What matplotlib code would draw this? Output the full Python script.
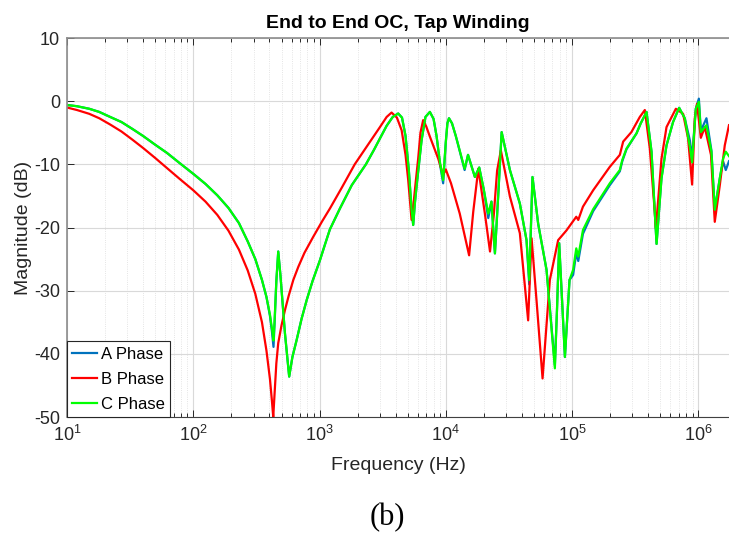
import matplotlib
matplotlib.use("Agg")
import matplotlib.pyplot as plt

plt.rcParams['font.family'] = ['Liberation Sans', 'DejaVu Sans']
plt.rcParams['axes.unicode_minus'] = False

# frequency response, tap winding, end-to-end open circuit
freq_ac = [10, 12, 15, 18, 22, 27, 33, 40, 50, 62, 78, 100, 125, 155, 190, 230, 270,
           310, 350, 380, 405, 420, 432, 440, 455, 471, 490, 532, 575, 610, 659, 720,
           791, 880, 1007, 1100, 1208, 1450, 1800, 2330, 2700, 3010, 3400, 3800, 4200,
           4500, 4800, 5100, 5350, 5520, 5700, 5940, 6430, 6900, 7480, 8000, 8450,
           9000, 9530, 10000, 10300, 10600, 11200, 12000, 14100, 15000, 17000, 18400,
           20000, 21700, 23000, 24500, 26000, 27700, 32200, 38600, 43600, 45800,
           48600, 53900, 62800, 73100, 76000, 79100, 87800, 95500, 102000, 108000,
           112000, 122000, 147000, 199000, 239000, 250000, 270000, 324000, 350000,
           389000, 426000, 452000, 467000, 511000, 560000, 631000, 705000, 781000,
           857000, 893000, 955000, 1010000, 1047000, 1160000, 1270000, 1350000,
           1480000, 1570000, 1650000, 1750000]

mag_a = [-0.6, -0.8, -1.2, -1.7, -2.5, -3.3, -4.4, -5.5, -6.9, -8.2, -9.8, -11.5,
         -13.1, -14.9, -16.9, -19.3, -22.2, -25.0, -28.3, -31.0, -34.0, -36.5, -38.9,
         -35.5, -28.5, -23.8, -27.5, -36.7, -43.6, -40.5, -37.8, -34.5, -31.5, -28.5,
         -25.2, -22.8, -20.3, -17.0, -13.3, -10.0, -7.7, -5.9, -3.9, -2.5, -1.95,
         -2.6, -5.5, -11.0, -17.0, -19.6, -16.0, -12.5, -6.2, -2.5, -1.7, -2.8, -5.5,
         -10.0, -13.0, -6.5, -3.5, -2.7, -3.5, -5.5, -10.9, -8.5, -12.0, -10.5, -14.0,
         -18.5, -15.9, -24.1, -15.0, -4.9, -10.9, -16.2, -22.0, -29.0, -12.0, -19.4,
         -26.7, -41.8, -33.0, -22.5, -40.5, -28.3, -27.5, -24.0, -25.3, -21.0, -17.4,
         -13.3, -11.1, -9.5, -7.6, -5.1, -3.5, -1.7, -8.0, -17.5, -22.6, -12.2, -7.0,
         -3.3, -1.05, -2.7, -6.2, -9.0, -1.2, 0.4, -4.7, -2.7, -7.8, -17.2, -12.2,
         -9.5, -10.9, -9.5]

mag_c = [-0.6, -0.8, -1.2, -1.7, -2.5, -3.3, -4.4, -5.5, -6.9, -8.2, -9.8, -11.5,
         -13.1, -14.9, -16.9, -19.3, -22.2, -25.0, -28.3, -31.0, -33.8, -36.0, -37.9,
         -35.0, -28.5, -23.8, -27.5, -36.7, -43.6, -40.5, -37.8, -34.5, -31.5, -28.5,
         -25.2, -22.8, -20.3, -17.0, -13.3, -10.0, -7.7, -5.9, -3.9, -2.5, -1.95,
         -2.6, -5.5, -11.0, -17.0, -19.6, -16.0, -12.5, -6.2, -2.5, -1.7, -2.8, -5.5,
         -9.7, -12.5, -6.5, -3.5, -2.7, -3.5, -5.5, -10.7, -8.5, -12.0, -10.5, -14.0,
         -17.8, -15.9, -24.1, -15.0, -4.9, -10.9, -16.2, -22.0, -28.3, -12.0, -19.4,
         -26.7, -42.3, -33.0, -22.5, -40.5, -28.3, -26.7, -23.3, -24.6, -20.4, -17.1,
         -13.0, -10.9, -9.3, -7.5, -5.1, -3.5, -1.7, -8.0, -17.5, -22.6, -12.2, -7.0,
         -3.3, -1.05, -2.7, -7.2, -9.7, -1.2, -0.1, -4.9, -3.8, -8.0, -17.2, -12.2,
         -9.1, -8.0, -8.7]

freq_b = [10, 12, 15, 18, 22, 27, 33, 40, 50, 62, 78, 100, 125, 155, 190, 230, 270,
          310, 350, 380, 405, 420, 430, 440, 455, 471, 500, 532, 570, 620, 680, 760,
          890, 1050, 1208, 1500, 1900, 2400, 3010, 3400, 3720, 4100, 4470, 4800,
          5040, 5360, 5600, 5800, 6050, 6300, 6620, 7000, 7480, 8710, 9530, 10000,
          11000, 12900, 15300, 16500, 18100, 20400, 22400, 24000, 25500, 27300,
          32200, 38600, 44900, 47800, 52300, 58400, 66700, 77600, 90000, 108000,
          112000, 122000, 147000, 199000, 239000, 254000, 295000, 344000, 377000,
          413000, 452000, 460000, 475000, 511000, 560000, 664000, 758000, 830000,
          893000, 938000, 977000, 1047000, 1125000, 1260000, 1350000, 1480000,
          1620000, 1750000]

mag_b = [-1.0, -1.4, -2.0, -2.7, -3.7, -4.8, -6.1, -7.4, -9.0, -10.6, -12.3, -14.1,
         -15.9, -18.0, -20.5, -23.5, -26.8, -30.5, -35.0, -39.5, -44.0, -47.5, -50.0,
         -46.5, -41.5, -38.3, -35.5, -33.1, -30.8, -28.3, -26.2, -24.0, -21.5, -19.0,
         -17.0, -13.7, -10.0, -7.0, -4.1, -2.5, -1.8, -2.6, -4.6, -8.5, -12.5, -18.8,
         -15.5, -12.5, -9.0, -5.0, -3.0, -4.0, -5.6, -9.1, -11.7, -10.8, -13.0, -17.8,
         -24.4, -17.5, -10.7, -17.8, -23.8, -18.0, -11.0, -7.8, -15.1, -20.9, -34.7,
         -21.7, -31.5, -43.9, -28.3, -22.0, -20.5, -18.3, -18.8, -16.7, -14.1, -10.4,
         -8.5, -6.4, -4.9, -2.5, -1.4, -7.5, -17.5, -20.1, -17.0, -9.1, -4.1, -1.2,
         -2.0, -5.9, -13.2, -2.7, -0.4, -5.8, -4.1, -8.5, -19.1, -13.3, -7.0, -3.8]

labels = ['A Phase', 'B Phase', 'C Phase']
colors = ['#0072BD', '#FF0000', '#00FF00']

fig = plt.figure(figsize=(7.29, 5.34), dpi=100)
ax = fig.add_axes([0.0919, 0.2191, 0.9081, 0.7097])

ax.semilogx(freq_ac, mag_a, color=colors[0], lw=1.6, label=labels[0])
ax.semilogx(freq_b, mag_b, color=colors[1], lw=1.6, label=labels[1])
ax.semilogx(freq_ac, mag_c, color=colors[2], lw=1.6, label=labels[2])

ax.set_xlim(10, 1.75e6)
ax.set_ylim(-50, 10)
ax.set_yticks(range(-50, 11, 10))

ax.grid(True, which='major', color='#d9d9d9', lw=0.8)
ax.grid(True, which='minor', axis='x', color='#dcdcdc', lw=0.6, ls=':')
ax.set_axisbelow(True)

ax.tick_params(which='both', direction='in', top=True, right=False,
               colors='#262626', labelsize=13, width=0.7)
ax.tick_params(which='major', length=5)
ax.tick_params(which='minor', length=3)
ax.tick_params(axis='x', pad=6)
ax.tick_params(axis='y', pad=5)

for side in ['top', 'left']:
    ax.spines[side].set_color('#8c8c8c')
    ax.spines[side].set_linewidth(1.2)
ax.spines['bottom'].set_color('#404040')
ax.spines['right'].set_visible(False)

ax.set_title('End to End OC, Tap Winding', fontsize=14, fontweight='bold', pad=7)
ax.set_xlabel('Frequency (Hz)', fontsize=14, color='#262626')
ax.set_ylabel('Magnitude (dB)', fontsize=14, color='#262626')
ax.xaxis.set_label_coords(0.5, -0.105)
ax.yaxis.set_label_coords(-0.053, 0.5)

leg = ax.legend(loc='lower left', fontsize=12, borderaxespad=0, fancybox=False,
                framealpha=1, edgecolor='#262626', handlelength=1.5,
                handletextpad=0.2, labelspacing=0.6, borderpad=0.32)
leg.get_frame().set_linewidth(0.8)

fig.text(0.532, 0.030, '(b)', fontsize=22, family='Liberation Serif',
         ha='center', va='center')

fig.savefig('out.png', dpi=100)
